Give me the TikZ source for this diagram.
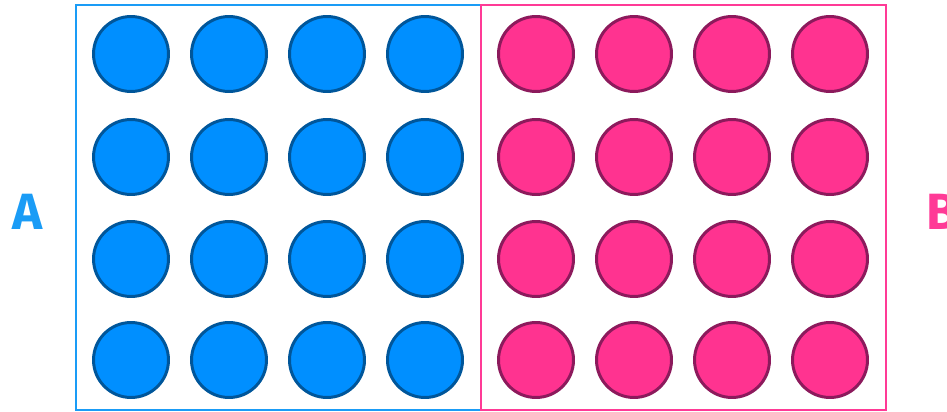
\documentclass[tikz,border=0pt]{standalone}
\usepackage{fontspec}
\setmainfont{Fira Sans}
\usepackage{tikz}
\usepackage{xcolor}
\definecolor{ablue}{HTML}{008FFF}
\definecolor{ablueline}{HTML}{00569A}
\definecolor{aframe}{HTML}{1A9CF6}
\definecolor{bpink}{HTML}{FF3390}
\definecolor{bpinkline}{HTML}{8C1A5C}
\definecolor{bframe}{HTML}{FF3A96}

\begin{document}
\begin{tikzpicture}[
  x=0.02cm, y=-0.02cm,
  ball/.style={circle, inner sep=0pt, minimum size=1.5cm, line width=1.7pt},
  blueball/.style={ball, fill=ablue, draw=ablueline},
  pinkball/.style={ball, fill=bpink, draw=bpinkline},
  frame/.style={line width=1.3pt},
  tag/.style={font=\bfseries\fontsize{29}{29}\selectfont}
]
\useasboundingbox (0,0) rectangle (947,412);

\node[draw=aframe, frame, minimum width=8.1cm, minimum height=8.1cm, inner sep=0pt] (boxA) at (278.5,207.5) {};
\node[draw=bframe, frame, minimum width=8.1cm, minimum height=8.1cm, inner sep=0pt] (boxB) at (683.5,207.5) {};

\foreach \r/\yy in {1/54, 2/157, 3/259, 4/360} {
  \foreach \c in {1,...,4} {
    \node[blueball] (a\r\c) at ({131+98*(\c-1)},\yy) {};
    \node[pinkball] (b\r\c) at ({536+98*(\c-1)},\yy) {};
  }
}

\node[tag, text=aframe] (labA) at (28,212) {A};
\node[tag, text=bframe] (labB) at (942,212) {B};

\end{tikzpicture}
\end{document}
